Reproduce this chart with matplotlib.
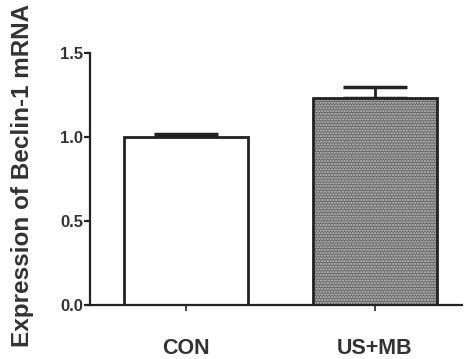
import matplotlib.pyplot as plt

groups = ["CON", "US+MB"]
means = [1.0, 1.23]
errors = [0.015, 0.07]

plt.rcParams['font.family'] = ['Liberation Sans', 'DejaVu Sans']
plt.rcParams['font.weight'] = 'bold'

fig = plt.figure(figsize=(4.65, 3.59), dpi=100)
ax = fig.add_axes([0.1935, 0.1504, 0.8, 0.702])

x = list(range(len(groups)))
# fill layer (dotted gray for the treated group)
ax.bar(x[0], means[0], width=0.66, color='white', linewidth=0, zorder=2)
ax.bar(x[1], means[1], width=0.66, color='#6a6a6a', edgecolor='#c4c4c4',
       hatch='......', linewidth=0, zorder=2)
# outline layer
ax.bar(x, means, width=0.66, fill=False, edgecolor='#222222', linewidth=2.0, zorder=3)
ax.errorbar(x, means, yerr=[[0, 0], errors], fmt='none', ecolor='#222222',
            elinewidth=2.0, capsize=23, capthick=2.5, zorder=1)

ax.set_xlim(-0.508, 1.46)
ax.set_ylim(0, 1.5)
ax.set_yticks([0.0, 0.5, 1.0, 1.5])
ax.set_yticklabels(['0.0', '0.5', '1.0', '1.5'])
ax.set_xticks(x)
ax.set_xticklabels(groups, fontsize=15.5, color='#333333')

for s in ['top', 'right']:
    ax.spines[s].set_visible(False)
for s in ['left', 'bottom']:
    ax.spines[s].set_linewidth(1.6)
    ax.spines[s].set_color('#222222')

ax.tick_params(axis='y', length=4, width=1.6, color='#222222', labelsize=12,
               labelcolor='#333333', pad=1)
ax.tick_params(axis='x', length=4, width=1.2, color='#222222', pad=20)

ax.set_ylabel('Expression of Beclin-1 mRNA', fontsize=17.5, fontweight='bold',
              color='#333333')
ax.yaxis.set_label_coords(-0.15, 0.515)

fig.savefig('out.png', dpi=100)
